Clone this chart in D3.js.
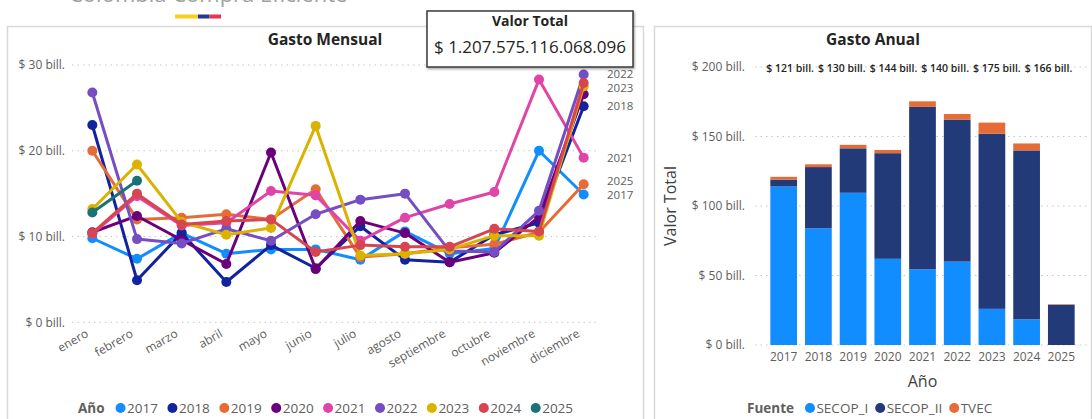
<!DOCTYPE html>
<html><head><meta charset="utf-8">
<script src="https://cdn.jsdelivr.net/npm/d3@7"></script>
<style>
body{margin:0;background:#fff;}
svg{display:block;font-family:"Open Sans","Noto Sans",sans-serif;}
</style>
</head><body>
<svg id="c" width="1092" height="419"></svg>
<script>
// ---------- DATA ----------
const months = ["enero","febrero","marzo","abril","mayo","junio","julio","agosto","septiembre","octubre","noviembre","diciembre"];
const seriesNames = ["2017","2018","2019","2020","2021","2022","2023","2024","2025"];
const s2017 = [9.8, 7.4, 10.4, 8.0, 8.5, 8.5, 7.3, 10.6, 8.0, 8.6, 20.0, 14.9];
const s2018 = [23.0, 4.9, 10.4, 4.7, 9.0, 6.3, 11.2, 7.3, 7.0, 10.2, 11.6, 25.2];
const s2019 = [20.0, 12.0, 12.2, 12.6, 12.0, 15.5, 7.6, 8.0, 8.7, 9.1, 10.5, 16.1];
const s2020 = [10.5, 12.4, 9.6, 6.8, 19.8, 6.2, 11.8, 10.4, 7.0, 8.1, 12.3, 26.6];
const s2021 = [10.3, 14.7, 11.3, 11.6, 15.3, 14.8, 9.5, 12.2, 13.8, 15.2, 28.3, 19.2];
const s2022 = [26.8, 9.7, 9.2, 10.9, 9.5, 12.6, 14.3, 15.0, 8.3, 8.2, 13.0, 28.9];
const s2023 = [13.2, 18.4, 11.7, 10.2, 11.0, 22.9, 7.8, 8.0, 8.5, 10.1, 10.1, 27.5];
const s2024 = [10.4, 15.0, 11.4, 11.8, 12.0, 8.2, 9.0, 8.8, 8.8, 10.9, 10.6, 27.9];
const s2025 = [12.8, 16.5];
const lineColors = ["#118DFF","#12239E","#E66C37","#6B007B","#E044A7","#744EC2","#D9B300","#D64550","#197278"];
const leftTicks = [0, 10, 20, 30];

const barYears = ["2017","2018","2019","2020","2021","2022","2023","2024","2025"];
const secopI  = [114, 84, 109.5, 62, 54.5, 60, 26, 18.5, 0];
const secopII = [5, 44, 32, 76, 116.8, 102.2, 126, 121.5, 29];
const tvec    = [2, 2, 2.5, 2.3, 4, 4, 8, 5, 0.3];
const fuentes = ["SECOP_I","SECOP_II","TVEC"];
const fuenteColors = ["#118DFF","#233A78","#E66C37"];
const rightTicks = [0, 50, 100, 150, 200];

const valorTotal = "$ 1.207.575.116.068.096";
const headerText = "Colombia Compra Eficiente";

// ---------- SETUP ----------
const svg = d3.select("#c");
const grayText = "#605E5C", darkText = "#252423", gridCol = "#C8C6C4";

const defs = svg.append("defs");
const f = defs.append("filter").attr("id","sh").attr("x","-10%").attr("y","-20%").attr("width","120%").attr("height","150%");
f.append("feDropShadow").attr("dx",1).attr("dy",1.5).attr("stdDeviation",1.2).attr("flood-opacity",0.35);

// header (cut off at the top edge, as in the reference)
svg.append("text").attr("x",69).attr("y",2).attr("font-size",22).attr("fill","#a0a0a0").text(headerText);
const flag = [["#F9D01C",23],["#26388F",11.5],["#E0394B",11.5]];
let fx = 175;
flag.forEach(([c,w])=>{ svg.append("rect").attr("x",fx).attr("y",14.5).attr("width",w).attr("height",4).attr("fill",c); fx+=w; });

// panels
svg.append("rect").attr("x",7.5).attr("y",26.5).attr("width",636).attr("height",420).attr("fill","#fff").attr("stroke","#d9d9d9").attr("stroke-width",1.5);
svg.append("rect").attr("x",654.5).attr("y",26.5).attr("width",437).attr("height",420).attr("fill","#fff").attr("stroke","#d9d9d9").attr("stroke-width",1.5);

// ---------- LEFT: Gasto Mensual ----------
const L = svg.append("g");
const x = d3.scalePoint().domain(months).range([70, 606]).padding(0.5);
const y = d3.scaleLinear().domain([0, 30]).range([322.3, 65]);

L.append("text").attr("x",325).attr("y",40).attr("dy","0.35em").attr("text-anchor","middle")
  .attr("font-size",15.5).attr("font-weight",700).attr("fill",darkText).text("Gasto Mensual");

leftTicks.forEach(t=>{
  L.append("line").attr("x1",72).attr("x2",598).attr("y1",y(t)).attr("y2",y(t))
    .attr("stroke",gridCol).attr("stroke-width",1).attr("stroke-dasharray","1.5,4");
  L.append("text").attr("x",65).attr("y",y(t)).attr("dy","0.35em").attr("text-anchor","end")
    .attr("font-size",12).attr("fill",grayText).text("$ "+t+" bill.");
});

months.forEach(m=>{
  L.append("text").attr("transform",`translate(${x(m)-3},${336}) rotate(-30)`)
    .attr("text-anchor","end").attr("font-size",12).attr("fill",grayText).text(m);
});

const allSeries = [s2017,s2018,s2019,s2020,s2021,s2022,s2023,s2024,s2025];
const line = d3.line().x((d,i)=>x(months[i])).y(d=>y(d));
allSeries.forEach((vals,k)=>{
  const g = L.append("g");
  g.append("path").attr("d",line(vals)).attr("fill","none").attr("stroke",lineColors[k])
    .attr("stroke-width",3).attr("stroke-linejoin","round");
  g.selectAll("circle").data(vals).join("circle")
    .attr("cx",(d,i)=>x(months[i])).attr("cy",d=>y(d)).attr("r",5).attr("fill",lineColors[k]);
});

// end labels with overlap avoidance
const ends = allSeries.map((v,k)=>({name:seriesNames[k], y:y(v[v.length-1])})).sort((a,b)=>a.y-b.y);
const accepted = [];
ends.forEach(e=>{ if (accepted.every(a=>Math.abs(a.y-e.y)>=12)) accepted.push(e); });
for (let i=1;i<accepted.length;i++){
  if (accepted[i].y - accepted[i-1].y < 14) accepted[i].y = accepted[i-1].y + 14;
}
accepted.forEach(e=>{
  L.append("text").attr("x",607).attr("y",e.y).attr("dy","0.35em").attr("font-size",11.5)
    .attr("fill",grayText).text(e.name);
});

function legend(g, x0, yy, title, names, colors, gap){
  const t = g.append("text").attr("x",x0).attr("y",yy).attr("dy","0.35em").attr("font-weight",700)
    .attr("font-size",13.5).attr("fill",grayText).text(title);
  let cx = x0 + t.node().getComputedTextLength() + 16;
  names.forEach((n,i)=>{
    g.append("circle").attr("cx",cx).attr("cy",yy).attr("r",5).attr("fill",colors[i]);
    const tt = g.append("text").attr("x",cx+6.5).attr("y",yy).attr("dy","0.35em")
      .attr("font-size",13.5).attr("fill",grayText).text(n);
    cx += 6.5 + tt.node().getComputedTextLength() + gap;
  });
}
legend(L, 78, 408, "Año", seriesNames, lineColors, 14.5);

// Valor Total card
const card = svg.append("g");
card.append("rect").attr("x",427).attr("y",11).attr("width",206).attr("height",56)
  .attr("fill","#fff").attr("stroke","#3a3a3a").attr("stroke-width",1.5).attr("filter","url(#sh)");
card.append("text").attr("x",530).attr("y",21).attr("dy","0.35em").attr("text-anchor","middle")
  .attr("font-size",14).attr("font-weight",700).attr("fill",darkText).text("Valor Total");
card.append("text").attr("x",530).attr("y",47).attr("dy","0.35em").attr("text-anchor","middle")
  .attr("font-size",17).attr("fill",darkText).text(valorTotal);

// ---------- RIGHT: Gasto Anual ----------
const R = svg.append("g");
const xb = d3.scaleBand().domain(barYears).range([762, 1083]).paddingInner(0.23).paddingOuter(0.24);
const yb = d3.scaleLinear().domain([0, 200]).range([345, 67]);

R.append("text").attr("x",873).attr("y",40).attr("dy","0.35em").attr("text-anchor","middle")
  .attr("font-size",15.5).attr("font-weight",700).attr("fill",darkText).text("Gasto Anual");

rightTicks.forEach(t=>{
  R.append("line").attr("x1",755).attr("x2",1088).attr("y1",yb(t)).attr("y2",yb(t))
    .attr("stroke",gridCol).attr("stroke-width",1).attr("stroke-dasharray","1.5,4");
  R.append("text").attr("x",745).attr("y",yb(t)).attr("dy","0.35em").attr("text-anchor","end")
    .attr("font-size",12).attr("fill",grayText).text("$ "+t+" bill.");
});

const table = barYears.map((yr,i)=>({year:yr, SECOP_I:secopI[i], SECOP_II:secopII[i], TVEC:tvec[i]}));
const stack = d3.stack().keys(fuentes)(table);
stack.forEach((layer,k)=>{
  R.append("g").selectAll("rect").data(layer).join("rect")
    .attr("x",d=>xb(d.data.year)).attr("width",xb.bandwidth())
    .attr("y",d=>yb(d[1])).attr("height",d=>Math.max(0,yb(d[0])-yb(d[1])))
    .attr("fill",fuenteColors[k]);
});

barYears.forEach(yr=>{
  R.append("text").attr("x",xb(yr)+xb.bandwidth()/2).attr("y",357).attr("dy","0.35em")
    .attr("text-anchor","middle").attr("font-size",12).attr("fill",grayText).text(yr);
});
R.append("text").attr("x",(762+1083)/2).attr("y",381).attr("dy","0.35em").attr("text-anchor","middle")
  .attr("font-size",16).attr("fill","#404040").text("Año");
R.append("text").attr("transform",`translate(670,${(345+67)/2}) rotate(-90)`).attr("dy","0.35em")
  .attr("text-anchor","middle").attr("font-size",16).attr("fill","#404040").text("Valor Total");

// total data labels, laid out left to right, dropped when no room
const totals = table.map(d=>d.SECOP_I+d.SECOP_II+d.TVEC);
let lx = xb(barYears[0]) - 4;
for (const tot of totals){
  const t = R.append("text").attr("x",lx).attr("y",68).attr("dy","0.35em").attr("font-size",10.5)
    .attr("font-weight",600).attr("fill",darkText).text("$ "+Math.round(tot)+" bill.");
  const w = t.node().getComputedTextLength();
  if (lx + w > 1088){ t.remove(); break; }
  lx += w + 4;
}

legend(R, 747, 408, "Fuente", fuentes, fuenteColors, 12);
</script>
</body></html>
